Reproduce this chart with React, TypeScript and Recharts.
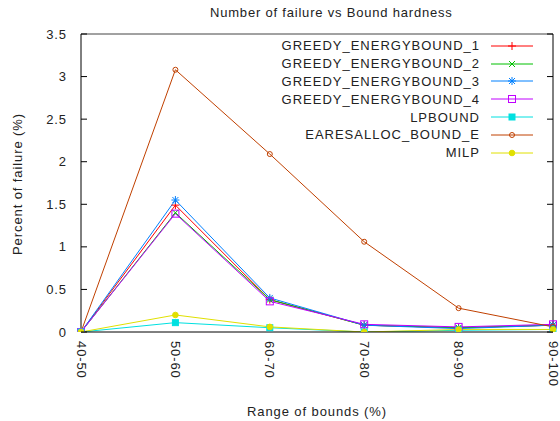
import React from 'react';
import { LineChart, Line, XAxis, YAxis, ReferenceLine } from 'recharts';

// bound ranges on the x axis
const ranges = ['40-50', '50-60', '60-70', '70-80', '80-90', '90-100'];
const yTicks = [0, 0.5, 1, 1.5, 2, 2.5, 3, 3.5];

// percent of failure per range
const greedy1 = [0, 1.49, 0.38, 0.08, 0.05, 0.08];
const greedy2 = [0, 1.4, 0.38, 0.08, 0.05, 0.08];
const greedy3 = [0, 1.55, 0.4, 0.08, 0.04, 0.08];
const greedy4 = [0, 1.39, 0.36, 0.09, 0.06, 0.09];
const lpBound = [0, 0.11, 0.05, 0, 0.02, 0.03];
const earesalloc = [0, 3.08, 2.09, 1.06, 0.28, 0.06];
const milp = [0, 0.2, 0.06, 0, 0.03, 0.03];

type Shape = 'plus' | 'cross' | 'star' | 'square' | 'fsquare' | 'circle' | 'fcircle';

const series: { key: string; name: string; values: number[]; color: string; shape: Shape }[] = [
  { key: 'g1', name: 'GREEDY_ENERGYBOUND_1', values: greedy1, color: '#ff0000', shape: 'plus' },
  { key: 'g2', name: 'GREEDY_ENERGYBOUND_2', values: greedy2, color: '#00c000', shape: 'cross' },
  { key: 'g3', name: 'GREEDY_ENERGYBOUND_3', values: greedy3, color: '#0080ff', shape: 'star' },
  { key: 'g4', name: 'GREEDY_ENERGYBOUND_4', values: greedy4, color: '#c000ff', shape: 'square' },
  { key: 'lp', name: 'LPBOUND', values: lpBound, color: '#00e0e0', shape: 'fsquare' },
  { key: 'ea', name: 'EARESALLOC_BOUND_E', values: earesalloc, color: '#c04000', shape: 'circle' },
  { key: 'milp', name: 'MILP', values: milp, color: '#e0e000', shape: 'fcircle' },
];

const rows = ranges.map((range, i) => {
  const row: Record<string, string | number> = { range };
  series.forEach((s) => {
    row[s.key] = s.values[i];
  });
  return row;
});

const FONT = '"Liberation Sans", Arial, sans-serif';
const TEXT = '#222';

const Marker = ({ cx, cy, shape, color }: { cx: number; cy: number; shape: Shape; color: string }) => {
  switch (shape) {
    case 'plus':
      return (
        <g stroke={color} strokeWidth={1}>
          <line x1={cx - 4} x2={cx + 4} y1={cy} y2={cy} />
          <line x1={cx} x2={cx} y1={cy - 4} y2={cy + 4} />
        </g>
      );
    case 'cross':
      return (
        <g stroke={color} strokeWidth={1}>
          <line x1={cx - 3} x2={cx + 3} y1={cy - 3} y2={cy + 3} />
          <line x1={cx - 3} x2={cx + 3} y1={cy + 3} y2={cy - 3} />
        </g>
      );
    case 'star':
      return (
        <g stroke={color} strokeWidth={1}>
          <line x1={cx - 4} x2={cx + 4} y1={cy} y2={cy} />
          <line x1={cx} x2={cx} y1={cy - 4} y2={cy + 4} />
          <line x1={cx - 3} x2={cx + 3} y1={cy - 3} y2={cy + 3} />
          <line x1={cx - 3} x2={cx + 3} y1={cy + 3} y2={cy - 3} />
        </g>
      );
    case 'square':
      return <rect x={cx - 3.5} y={cy - 3.5} width={7} height={7} fill="none" stroke={color} strokeWidth={1} />;
    case 'fsquare':
      return <rect x={cx - 3} y={cy - 3} width={6} height={6} fill={color} stroke={color} strokeWidth={1} />;
    case 'circle':
      return <circle cx={cx} cy={cy} r={2.5} fill="none" stroke={color} strokeWidth={1} />;
    default:
      return <circle cx={cx} cy={cy} r={2.8} fill={color} stroke={color} strokeWidth={1} />;
  }
};

const makeDot = (shape: Shape, color: string, name: string) => (p: any) => (
  <g key={`${name}-${p.index}`}>
    <Marker cx={p.cx} cy={p.cy} shape={shape} color={color} />
  </g>
);

const LeftTick = ({ x, y, payload }: any) => (
  <g>
    <line x1={x} x2={x + 6} y1={y} y2={y} stroke="#000" />
    <text
      x={x - 14}
      y={y}
      textAnchor="end"
      dominantBaseline="central"
      fontFamily={FONT}
      fontSize={13}
      letterSpacing={0.9}
      fill={TEXT}
    >
      {payload.value}
    </text>
  </g>
);

const RightTick = ({ x, y }: any) => <line x1={x} x2={x - 6} y1={y} y2={y} stroke="#000" />;

const BottomTick = ({ x, y, payload }: any) => (
  <text
    x={x}
    y={y + 9}
    transform={`rotate(90, ${x}, ${y + 9})`}
    textAnchor="start"
    dominantBaseline="central"
    fontFamily={FONT}
    fontSize={13}
    letterSpacing={0.9}
    fill={TEXT}
  >
    {payload.value}
  </text>
);

const LegendBox = () => (
  <div style={{ position: 'absolute', left: 260, top: 37, width: 290, fontFamily: FONT, fontSize: 13, color: TEXT }}>
    {series.map((s) => (
      <div key={s.key} style={{ display: 'flex', alignItems: 'center', justifyContent: 'flex-end', height: 17.8 }}>
        <span style={{ letterSpacing: 1, marginRight: 10 }}>{s.name}</span>
        <svg width={44} height={12} style={{ marginRight: 16 }}>
          <line x1={1} x2={43} y1={6} y2={6} stroke={s.color} strokeWidth={1} />
          <Marker cx={22} cy={6} shape={s.shape} color={s.color} />
        </svg>
      </div>
    ))}
  </div>
);

export default function App() {
  return (
    <div style={{ position: 'absolute', left: 0, top: 0, width: 560, height: 421, background: '#fff' }}>
      <div
        style={{
          position: 'absolute',
          top: 5,
          left: 210,
          fontFamily: FONT,
          fontSize: 13,
          letterSpacing: 0.8,
          color: TEXT,
          whiteSpace: 'nowrap',
        }}
      >
        Number of failure vs Bound hardness
      </div>
      <div
        style={{
          position: 'absolute',
          left: 17,
          top: 184,
          transform: 'translate(-50%, -50%) rotate(-90deg)',
          fontFamily: FONT,
          fontSize: 13,
          letterSpacing: 0.9,
          color: TEXT,
          whiteSpace: 'nowrap',
        }}
      >
        Percent of failure (%)
      </div>
      <div
        style={{
          position: 'absolute',
          left: 317,
          top: 411,
          transform: 'translate(-50%, -50%)',
          fontFamily: FONT,
          fontSize: 13,
          letterSpacing: 0.9,
          color: TEXT,
          whiteSpace: 'nowrap',
        }}
      >
        Range of bounds (%)
      </div>
      <LineChart width={560} height={421} data={rows} margin={{ top: 34, right: 0, bottom: 0, left: 0 }}>
        <XAxis
          dataKey="range"
          height={89}
          interval={0}
          tickSize={0}
          tickMargin={0}
          tickLine={false}
          axisLine={{ stroke: '#000' }}
          tick={<BottomTick />}
        />
        <YAxis
          yAxisId="l"
          width={81}
          domain={[0, 3.5]}
          ticks={yTicks}
          interval={0}
          tickSize={0}
          tickMargin={0}
          tickLine={false}
          axisLine={{ stroke: '#000' }}
          tick={<LeftTick />}
          allowDataOverflow
        />
        <YAxis
          yAxisId="r"
          orientation="right"
          width={7}
          domain={[0, 3.5]}
          ticks={yTicks}
          interval={0}
          tickSize={0}
          tickMargin={0}
          tickLine={false}
          axisLine={{ stroke: '#000' }}
          tick={<RightTick />}
          allowDataOverflow
        />
        <ReferenceLine yAxisId="l" y={3.5} stroke="#444" />
        {series.map((s) => (
          <Line
            key={s.key}
            yAxisId="l"
            type="linear"
            dataKey={s.key}
            name={s.name}
            stroke={s.color}
            strokeWidth={1}
            dot={makeDot(s.shape, s.color, s.key)}
            activeDot={false}
            isAnimationActive={false}
          />
        ))}
      </LineChart>
      <LegendBox />
    </div>
  );
}
